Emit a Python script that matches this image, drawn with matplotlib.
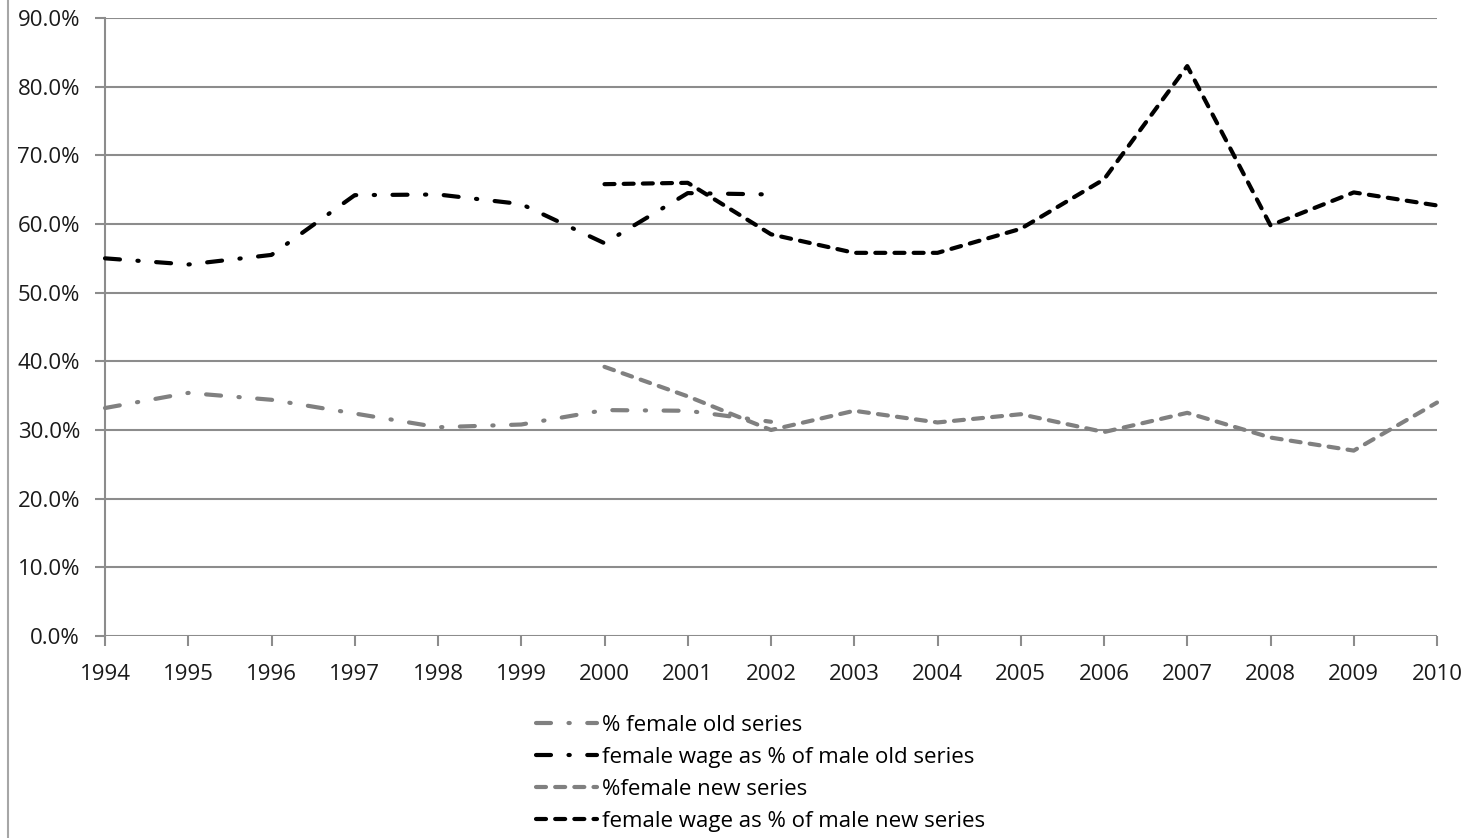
import matplotlib
matplotlib.use('Agg')
import matplotlib.pyplot as plt
from matplotlib.lines import Line2D
from matplotlib.ticker import FuncFormatter

plt.rcParams['font.family'] = ['Open Sans', 'DejaVu Sans']

# data (percent)
years_old = [1994, 1995, 1996, 1997, 1998, 1999, 2000, 2001, 2002]
fem_old = [33.2, 35.4, 34.4, 32.4, 30.4, 30.8, 32.9, 32.8, 31.2]
wage_old = [55.0, 54.1, 55.5, 64.2, 64.3, 62.9, 57.2, 64.5, 64.3]

years_new = [2000, 2001, 2002, 2003, 2004, 2005, 2006, 2007, 2008, 2009, 2010]
fem_new = [39.2, 34.9, 30.0, 32.8, 31.1, 32.3, 29.7, 32.5, 28.9, 27.0, 34.0]
wage_new = [65.8, 66.0, 58.5, 55.8, 55.8, 59.3, 66.5, 83.0, 59.8, 64.6, 62.7]

labels = ['% female old series', 'female wage as % of male old series',
          '%female new series', 'female wage as % of male new series']

GREY = '#808080'
GRID = '#8c8c8c'
dashdot = (0, (3.6, 4.2, 0.3, 4.2))
dashed = (0, (2.4, 2.2))

fig = plt.figure(figsize=(14.71, 8.38), dpi=100)
ax = fig.add_axes([105 / 1471, 1 - 636 / 838, (1437 - 105) / 1471, (636 - 18) / 838])

series = [
    (years_old, fem_old, GREY, dashdot),
    (years_old, wage_old, 'black', dashdot),
    (years_new, fem_new, GREY, dashed),
    (years_new, wage_new, 'black', dashed),
]
for (xs, ys, col, ls), lab in zip(series, labels):
    ax.plot(xs, ys, color=col, linewidth=3, linestyle=ls, dash_capstyle='round',
            dash_joinstyle='round', label=lab, zorder=3, clip_on=False)

ax.set_xlim(1994, 2010)
ax.set_ylim(0, 90)
ax.set_xticks(range(1994, 2011))
ax.set_yticks(range(0, 91, 10))
ax.yaxis.set_major_formatter(FuncFormatter(lambda v, p: f'{v:.1f}%'))
ax.grid(axis='y', color=GRID, linewidth=1.5, zorder=1)
for s in ['top', 'right', 'bottom']:
    ax.spines[s].set_visible(False)
ax.spines['left'].set_color(GRID)
ax.spines['left'].set_linewidth(1.5)
ax.tick_params(axis='both', direction='out', length=7, width=1.5, color=GRID,
               labelsize=16, labelcolor='#1a1a1a')
ax.tick_params(axis='y', pad=11)
ax.tick_params(axis='x', pad=13)

handles, _ = ax.get_legend_handles_labels()
fig.legend(handles, labels, loc='upper left', bbox_to_anchor=(536 / 1471, 1 - 715 / 838),
           frameon=False, fontsize=16, handlelength=2.75, handletextpad=0.22,
           labelspacing=0.49, borderaxespad=0, borderpad=0)

# outer chart border on the left
fig.add_artist(Line2D([8 / 1471, 8 / 1471], [0, 1], color='#a6a6a6', linewidth=1.5,
                      transform=fig.transFigure))

fig.savefig('out.png', dpi=100)
